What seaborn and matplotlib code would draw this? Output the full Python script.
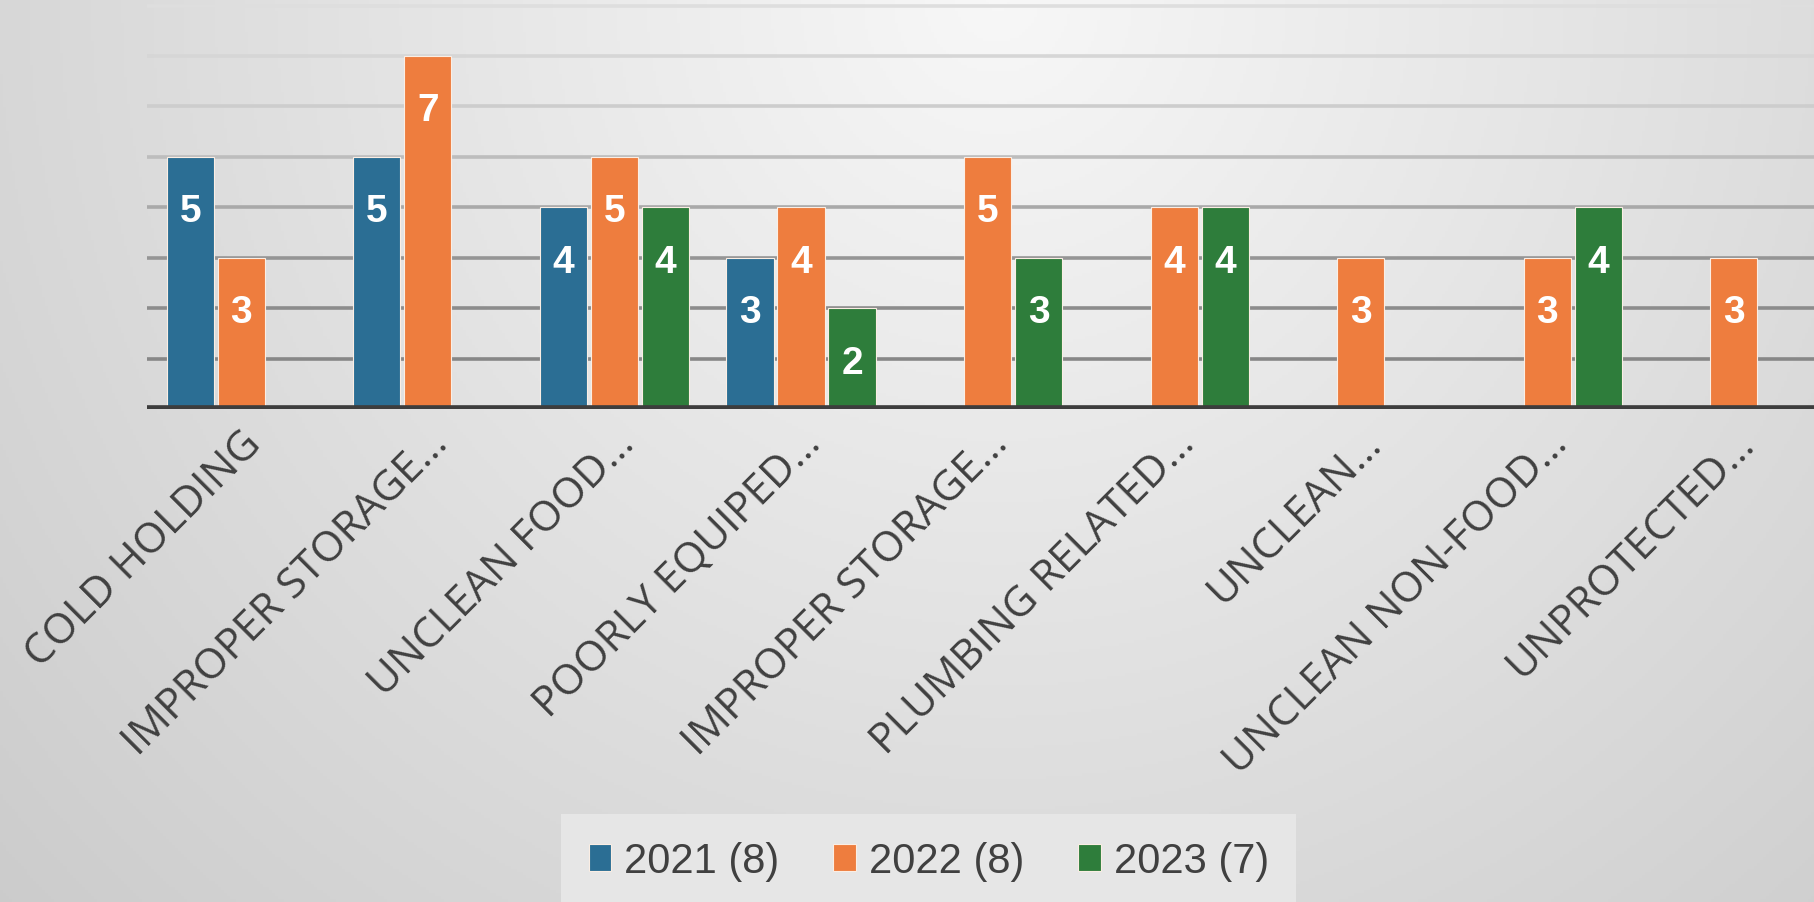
import matplotlib
matplotlib.use('Agg')
import matplotlib.pyplot as plt
import matplotlib.transforms as mtransforms
import numpy as np
import pandas as pd
import seaborn as sns

# Chart data
categories = ['COLD HOLDING', 'IMPROPER STORAGE…', 'UNCLEAN FOOD…', 'POORLY EQUIPED…',
              'IMPROPER STORAGE…', 'PLUMBING RELATED…', 'UNCLEAN…', 'UNCLEAN NON-FOOD…',
              'UNPROTECTED…']
years = ['2021 (8)', '2022 (8)', '2023 (7)']
counts_2021 = [5, 5, 4, 3, None, None, None, None, None]
counts_2022 = [3, 7, 5, 4, 5, 4, 3, 3, 3]
counts_2023 = [None, None, 4, 2, 3, 4, None, 4, None]

colors = ['#2b6e94', '#ee7d3e', '#2e7d3b']

# Long format, category index as key because two labels repeat
rows = []
for year, vals in zip(years, [counts_2021, counts_2022, counts_2023]):
    for i, v in enumerate(vals):
        if v is not None:
            rows.append({'cat': i, 'year': year, 'count': v})
df = pd.DataFrame(rows)

sns.set_theme(style='white')
plt.rcParams['font.family'] = ['Open Sans', 'DejaVu Sans']

fig = plt.figure(figsize=(18.14, 9.03), dpi=100)

# Soft grey radial background, brightest at top centre
bg = fig.add_axes([0, 0, 1, 1], zorder=-10)
yy, xx = np.mgrid[0:1:300j, 0:1:600j]
dist = np.sqrt((2 * (xx - 0.55)) ** 2 + yy ** 2)
light = np.clip(0.97 - 0.115 * dist, 0, 1)
bg.imshow(np.dstack([light] * 3), aspect='auto', extent=(0, 1, 0, 1), origin='upper')
bg.axis('off')

ax = fig.add_axes([0.081, 0.546, 0.919, 0.454])
ax.set_facecolor('none')

# Gridlines, darker toward the bottom
grid_colors = ['#878787', '#8c8c8c', '#959595', '#a9a9a9', '#bdbdbd', '#cdcdcd', '#d6d6d6', '#dedede']
for level, gc in zip(range(1, 9), grid_colors):
    ax.axhline(level, color=gc, lw=2.6, zorder=0)

sns.barplot(data=df, x='cat', y='count', hue='year', hue_order=years,
            order=list(range(len(categories))), palette=colors,
            width=0.82, gap=0.075, edgecolor='#fbeee4', linewidth=0.8,
            saturation=1, legend=True, ax=ax, zorder=2)

for cont in ax.containers:
    for bar in cont:
        h = bar.get_height()
        if np.isnan(h) or h == 0:
            continue
        ax.text(bar.get_x() + bar.get_width() / 2, h - 1.08, f'{int(h)}',
                ha='center', va='center', color='white', fontsize=28,
                fontweight='bold', family=['Liberation Sans', 'DejaVu Sans'], zorder=5)

ax.axhline(0, color='#3d3d3d', lw=5.5, zorder=4)
ax.set_xlim(-0.506, 8.43)
ax.set_ylim(0, 8.13)
ax.set_yticks([])
ax.set_xlabel('')
ax.set_ylabel('')
for s in ax.spines.values():
    s.set_visible(False)

ax.set_xticks(range(len(categories)))
ax.set_xticklabels(categories, rotation=45, ha='right', va='center',
                   rotation_mode='anchor', fontsize=30.5, color='#404040')
ax.tick_params(axis='x', length=0, pad=20)
offset = mtransforms.ScaledTranslation(14 / 100, 0, fig.dpi_scale_trans)
for lab in ax.get_xticklabels():
    lab.set_transform(lab.get_transform() + offset)

handles, labels = ax.get_legend_handles_labels()
ax.get_legend().remove()
leg = fig.legend(handles, labels, loc='center', bbox_to_anchor=(0.512, 0.045), ncol=3,
                 frameon=True, facecolor='#e6e6e6', edgecolor='none', framealpha=1,
                 fancybox=False, prop={'family': ['Liberation Sans', 'DejaVu Sans'], 'size': 30},
                 handlelength=0.55, handleheight=0.6, handletextpad=0.3,
                 columnspacing=1.3, borderpad=0.65, labelcolor='#404040')

fig.savefig('out.png', dpi=100)
